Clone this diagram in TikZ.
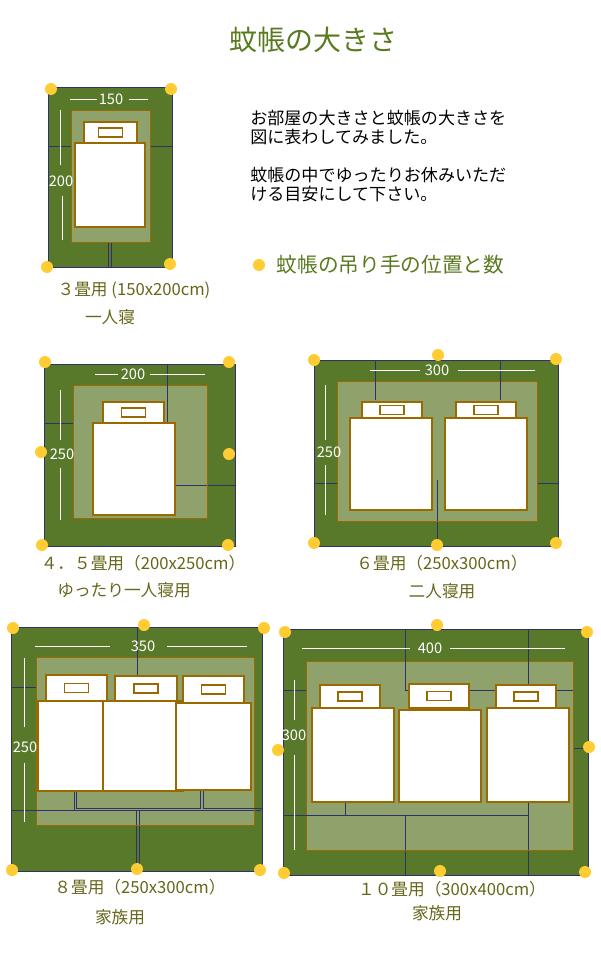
\documentclass[tikz,border=0pt]{standalone}
\usepackage{fontspec}
\setmainfont{Noto Sans CJK JP}
\definecolor{matgreen}{HTML}{58782A}
\definecolor{innergreen}{HTML}{8FA26C}
\definecolor{tline}{HTML}{30306A}
\definecolor{bedline}{HTML}{9A6A00}
\definecolor{dotgold}{HTML}{FFCC33}
\definecolor{olivetext}{HTML}{66661A}
\definecolor{titlegreen}{HTML}{5A7A20}
\tikzset{
  mat/.style={fill=matgreen,draw=tline,line width=0.6pt},
  inner/.style={fill=innergreen,draw=bedline,line width=0.5pt},
  tatami/.style={draw=tline,line width=0.6pt},
  bed/.style={fill=white,draw=bedline,line width=0.8pt},
  dimline/.style={draw=white,line width=0.7pt},
  dimtext/.style={text=white,font=\fontsize{11}{12}\selectfont,inner sep=1pt},
  hook/.style={circle,fill=dotgold,inner sep=0pt,minimum size=9pt},
  caption/.style={text=olivetext,font=\fontsize{12.5}{14}\selectfont},
  note/.style={font=\fontsize{12.8}{14}\selectfont,anchor=west,inner sep=0pt}
}
% one pillow with its tag
\newcommand{\pillow}[4]{\draw[bed] (#1,#2) rectangle (#3,#4);
  \draw[bed] ({(#1+#3)/2-12},{(#2+#4)/2-4.5}) rectangle ({(#1+#3)/2+12},{(#2+#4)/2+4.5});}
\begin{document}
\begin{tikzpicture}[x=0.75pt,y=-0.75pt]
\useasboundingbox (0,0) rectangle (600,956);
\node[text=titlegreen,font=\fontsize{21}{23}\selectfont] (title) at (313,40) {蚊帳の大きさ};
% explanation
\node[note] (t1) at (250,118) {お部屋の大きさと蚊帳の大きさを};
\node[note] (t2) at (250,137) {図に表わしてみました。};
\node[note] (t3) at (250,175) {蚊帳の中でゆったりお休みいただ};
\node[note] (t4) at (250,194) {ける目安にして下さい。};
\node[hook] (legdot) at (259,265) {};
\node[anchor=west,text=titlegreen,font=\fontsize{15.5}{17}\selectfont] (legend) at (272,265) {蚊帳の吊り手の位置と数};

% 3 tatami
\draw[mat] (48,87) rectangle (172,267);
\draw[tatami] (48,146) -- (172,146) (108,242) -- (108,267) (111,242) -- (111,267);
\draw[inner] (71,110) rectangle (150,242);
\pillow{84}{122}{137}{143}
\draw[bed] (75,143) rectangle (145,227);
\draw[dimline] (70,99) -- (97,99) (129,99) -- (148,99) (60,110) -- (60,165) (62,196) -- (62,240);
\node[dimtext] (w3) at (111,99) {150};
\node[dimtext] (h3) at (61,181) {200};
\foreach \p in {(51,89),(171,89),(47,267),(170,264)} \node[hook] at \p {};
\node[caption] (c3) at (134,290) {３畳用 (150x200cm)};
\node[caption] (u3) at (110,317) {一人寝};

% 4.5 tatami
\draw[mat] (44,364) rectangle (235,546);
\draw[tatami] (167,364) -- (167,485) -- (235,485) (44,423) -- (93,423);
\draw[inner] (73,385) rectangle (207,518);
\draw[tatami] (167,385) -- (167,485) -- (207,485);
\pillow{103}{402}{164}{423}
\draw[bed] (93,423) rectangle (175,515);
\draw[dimline] (95,374) -- (118,374) (150,374) -- (205,374) (60,390) -- (60,440) (60,468) -- (60,520);
\node[dimtext] (w45) at (133,374) {200};
\node[dimtext] (h45) at (62,454) {250};
\foreach \p in {(45,362),(229,362),(41,452),(229,454),(42,545),(228,545)} \node[hook] at \p {};
\node[caption] (c45) at (143,563) {４．５畳用（200x250cm）};
\node[caption] (u45) at (124,590) {ゆったり一人寝用};

% 6 tatami
\draw[mat] (314,360) rectangle (558,546);
\draw[tatami] (375,360) -- (375,400) (500,360) -- (500,400) (314,483) -- (350,483)
  (437,480) -- (437,546) (527,483) -- (558,483);
\draw[inner] (337,381) rectangle (537,521);
\draw[tatami] (375,381) -- (375,400) (500,381) -- (500,400) (437,480) -- (437,521);
\pillow{362}{402}{422}{418}
\pillow{456}{402}{516}{418}
\draw[bed] (350,418) rectangle (432,510);
\draw[bed] (445,418) rectangle (527,510);
\draw[dimline] (370,370) -- (420,370) (458,370) -- (535,370) (325,385) -- (325,440) (325,465) -- (325,515);
\node[dimtext] (w6) at (437,370) {300};
\node[dimtext] (h6) at (329,452) {250};
\foreach \p in {(314,360),(438,355),(556,359),(314,543),(437,545),(556,543)} \node[hook] at \p {};
\node[caption] (c6) at (442,563) {６畳用（250x300cm）};
\node[caption] (u6) at (442,591) {二人寝用};

% 8 tatami
\draw[mat] (11,627) rectangle (262,871);
\draw[tatami] (137,627) -- (137,687) (11,687) -- (46,687) (12,810) -- (261,810)
  (136,810) -- (136,871) (139,810) -- (139,871) (262,685) -- (262,808);
\draw[inner] (36,657) rectangle (254,825);
\draw[tatami] (137,657) -- (137,687) (36,810) -- (254,810) (136,810) -- (136,825) (139,810) -- (139,825)
  (76,791) -- (76,808) -- (200,808) -- (200,791) (74,791) -- (74,810) (203,790) -- (203,808) -- (262,808);
\pillow{46}{675}{107}{701}
\pillow{115}{676}{177}{701}
\pillow{183}{676}{244}{703}
\draw[bed] (38,701) rectangle (103,791);
\draw[bed] (103,701) rectangle (183,791);
\draw[bed] (176,703) rectangle (251,790);
\draw[dimline] (35,646) -- (110,646) (167,646) -- (247,646) (24,658) -- (24,727) (24,763) -- (24,822);
\node[dimtext] (w8) at (143,646) {350};
\node[dimtext] (h8) at (25,747) {250};
\foreach \p in {(13,628),(144,625),(264,628),(12,870),(137,869),(260,870)} \node[hook] at \p {};
\node[caption] (c8) at (140,887) {８畳用（250x300cm）};
\node[caption] (u8) at (120,917) {家族用};

% 10 tatami
\draw[mat] (283,629) rectangle (588,875);
\draw[tatami] (283,690) -- (306,690) (283,815) -- (306,815) (405,629) -- (405,661) (528,629) -- (528,661)
  (405,815) -- (405,875) (528,802) -- (528,875) (573,748) -- (588,748);
\draw[inner] (306,661) rectangle (573,850);
\draw[tatami] (405,661) -- (405,690) -- (573,690) (528,661) -- (528,690) (306,815) -- (405,815) -- (405,850)
  (528,802) -- (528,850) (345,802) -- (345,815) (405,815) -- (528,815);
\pillow{320}{685}{380}{708}
\pillow{409}{684}{469}{708}
\pillow{496}{685}{556}{708}
\draw[bed] (312,708) rectangle (394,802);
\draw[bed] (399,710) rectangle (481,802);
\draw[bed] (487,708) rectangle (569,802);
\draw[dimline] (302,648) -- (410,648) (450,648) -- (565,648) (294,680) -- (294,720) (294,755) -- (294,850);
\node[dimtext] (w10) at (430,648) {400};
\node[dimtext] (h10) at (294,735) {300};
\foreach \p in {(285,632),(437,625),(587,632),(278,750),(589,747),(284,873),(440,871),(585,872)} \node[hook] at \p {};
\node[caption] (c10) at (452,889) {１０畳用（300x400cm）};
\node[caption] (u10) at (437,913) {家族用};
\end{tikzpicture}
\end{document}
